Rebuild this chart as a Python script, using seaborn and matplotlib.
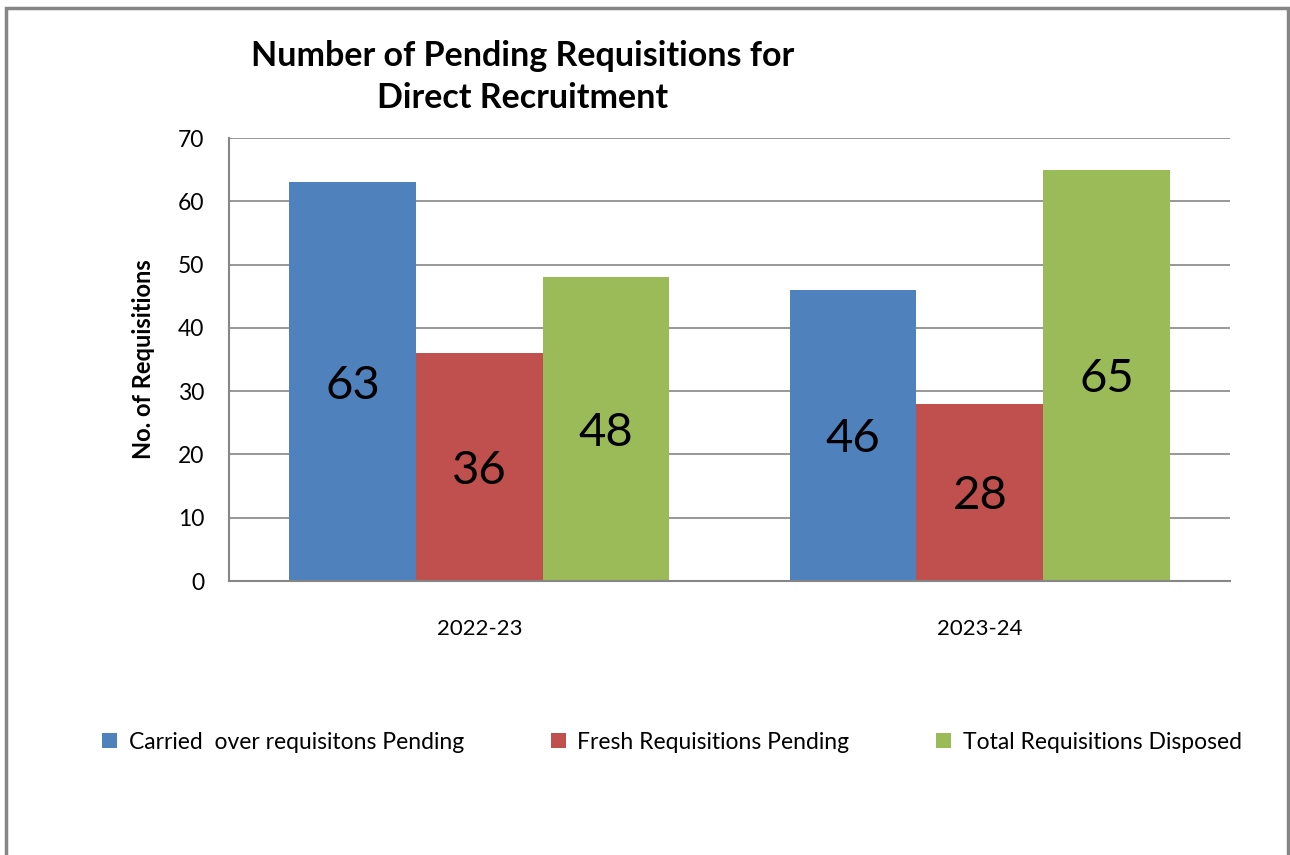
import pandas as pd
import seaborn as sns
import matplotlib.pyplot as plt
from matplotlib.patches import Rectangle

# chart data
years = ['2022-23', '2023-24']
series_names = ['Carried  over requisitons Pending', 'Fresh Requisitions Pending', 'Total Requisitions Disposed']
carried_over = [63, 46]
fresh = [36, 28]
disposed = [48, 65]
colors = ['#4F81BD', '#C0504D', '#9BBB59']

rows = []
for name, vals in zip(series_names, [carried_over, fresh, disposed]):
    for yr, v in zip(years, vals):
        rows.append({'year': yr, 'series': name, 'value': v})
df = pd.DataFrame(rows)

sns.set_style('white')
plt.rcParams['font.family'] = ['Lato', 'DejaVu Sans']
plt.rcParams['text.color'] = 'black'
plt.rcParams['axes.labelcolor'] = 'black'
plt.rcParams['xtick.color'] = 'black'
plt.rcParams['ytick.color'] = 'black'

fig = plt.figure(figsize=(12.9, 8.55), dpi=100)
ax = fig.add_axes([229 / 1290, 1 - 581 / 855, 1001 / 1290, 443 / 855])

sns.barplot(data=df, x='year', y='value', hue='series', hue_order=series_names,
            order=years, palette=colors, saturation=1, width=0.76, gap=0,
            linewidth=0, ax=ax)

for cont in ax.containers:
    for t in ax.bar_label(cont, label_type='center', fontsize=34, color='black'):
        t.set_va('center_baseline')

ax.set_ylim(0, 70)
ax.set_xlim(-0.5, 1.5)
ax.set_yticks(range(0, 71, 10))
ax.yaxis.grid(True, color='#868686', linewidth=1.2)
ax.set_axisbelow(True)
ax.tick_params(axis='y', length=0, pad=18, labelsize=16.5)
ax.tick_params(axis='x', length=0, pad=27, labelsize=16)
for s in ['top', 'right']:
    ax.spines[s].set_visible(False)
for s in ['left', 'bottom']:
    ax.spines[s].set_color('#868686')
    ax.spines[s].set_linewidth(1.5)
ax.set_xlabel('')
ax.set_ylabel('No. of Requisitions', fontsize=17, fontweight='bold', labelpad=16)

# title
fig.text(523 / 1290, 1 - 77 / 855, 'Number of Pending Requisitions for\nDirect Recruitment',
         ha='center', va='center', fontsize=24.5, fontweight='bold', linespacing=1.38)

# legend at the bottom
handles, labels = ax.get_legend_handles_labels()
ax.legend(handles, labels, loc='center', bbox_to_anchor=(672 / 1290, 1 - 742 / 855),
          bbox_transform=fig.transFigure, ncol=3, frameon=False, fontsize=16.5,
          handlelength=0.65, handleheight=0.65, handletextpad=0.5, columnspacing=3.8)

# outer chart border
fig.patches.append(Rectangle((6 / 1290, -0.1), 1282 / 1290, 1.1 - 8 / 855,
                             transform=fig.transFigure, fill=False,
                             edgecolor='#868686', linewidth=2.5))

fig.savefig('out.png', dpi=100)
